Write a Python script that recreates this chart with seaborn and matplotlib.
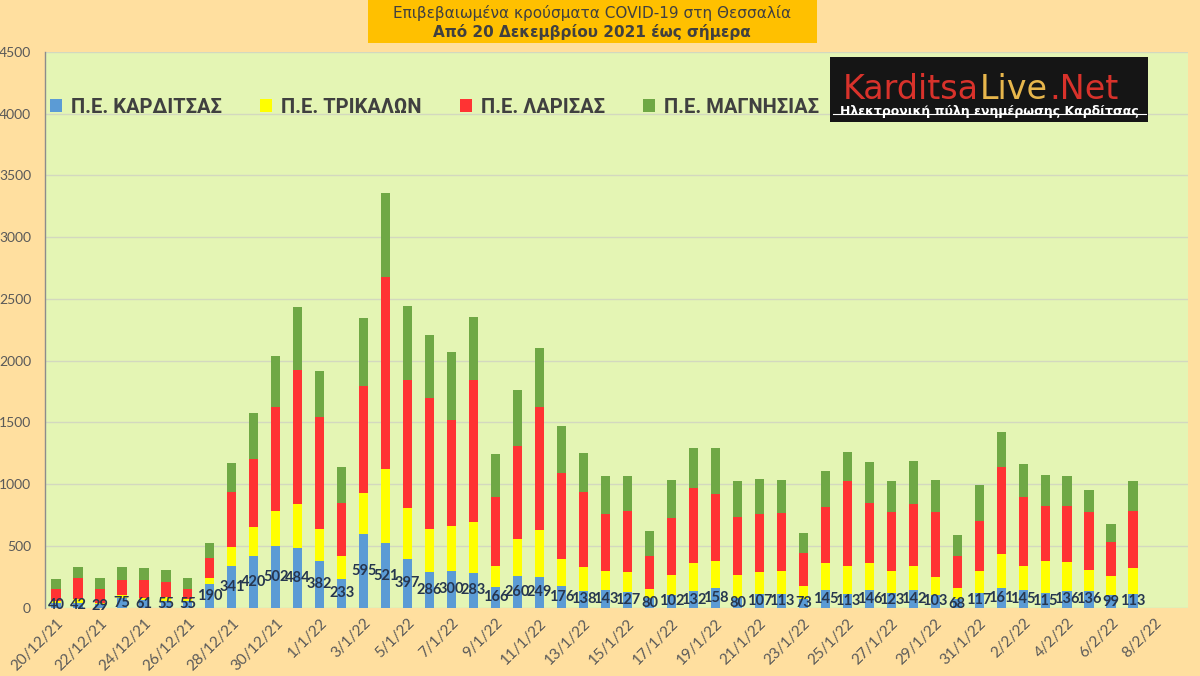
import matplotlib
matplotlib.use("Agg")
import matplotlib.pyplot as plt
from matplotlib.patches import Patch, Rectangle
from matplotlib.lines import Line2D
import seaborn as sns
import pandas as pd
import numpy as np

# ---------------- data ----------------
dates = ["20/12/21", "21/12/21", "22/12/21", "23/12/21", "24/12/21", "25/12/21", "26/12/21",
         "27/12/21", "28/12/21", "29/12/21", "30/12/21", "31/12/21",
         "1/1/22", "2/1/22", "3/1/22", "4/1/22", "5/1/22", "6/1/22", "7/1/22", "8/1/22",
         "9/1/22", "10/1/22", "11/1/22", "12/1/22", "13/1/22", "14/1/22", "15/1/22",
         "16/1/22", "17/1/22", "18/1/22", "19/1/22", "20/1/22", "21/1/22", "22/1/22",
         "23/1/22", "24/1/22", "25/1/22", "26/1/22", "27/1/22", "28/1/22", "29/1/22",
         "30/1/22", "31/1/22", "1/2/22", "2/2/22", "3/2/22", "4/2/22", "5/2/22",
         "6/2/22", "7/2/22", "8/2/22", "9/2/22"]

karditsa = [40, 42, 29, 75, 61, 55, 55, 190, 341, 420, 502, 484, 382, 233, 595, 521, 397,
            286, 300, 283, 166, 260, 249, 176, 138, 143, 127, 80, 102, 132, 158, 80, 107,
            113, 73, 145, 113, 146, 123, 142, 103, 68, 117, 161, 145, 115, 136, 136, 99, 113]
trikala = [15, 25, 12, 28, 15, 34, 13, 48, 154, 231, 282, 354, 259, 189, 337, 601, 411,
           355, 362, 412, 172, 297, 381, 216, 192, 154, 160, 71, 163, 228, 223, 185, 180,
           184, 103, 215, 225, 214, 174, 196, 143, 94, 180, 271, 193, 266, 234, 172, 158, 206]
larisa = [95, 171, 110, 121, 148, 116, 83, 167, 440, 552, 843, 1089, 902, 429, 865, 1554,
          1038, 1059, 854, 1151, 562, 754, 997, 697, 605, 460, 500, 271, 459, 613, 541, 468,
          470, 468, 267, 459, 689, 489, 479, 500, 530, 260, 406, 706, 562, 446, 457, 468,
          278, 468]
magnisia = [85, 89, 92, 103, 95, 100, 92, 122, 233, 370, 414, 511, 373, 287, 546, 684, 600,
            508, 557, 508, 343, 449, 476, 379, 316, 311, 281, 197, 311, 322, 373, 291, 286,
            270, 165, 289, 235, 332, 248, 351, 259, 165, 292, 283, 260, 249, 241, 175, 146, 237]

series_names = ["Π.Ε. ΚΑΡΔΙΤΣΑΣ", "Π.Ε. ΤΡΙΚΑΛΩΝ", "Π.Ε. ΛΑΡΙΣΑΣ", "Π.Ε. ΜΑΓΝΗΣΙΑΣ"]
colors = ["#5B9BD5", "#FFFF00", "#FF3333", "#6FA845"]

n = len(karditsa)
df = pd.DataFrame({
    "date": dates[:n],
    "K": karditsa, "T": trikala, "L": larisa, "M": magnisia,
})
df["c1"] = df["K"]
df["c2"] = df["c1"] + df["T"]
df["c3"] = df["c2"] + df["L"]
df["c4"] = df["c3"] + df["M"]

# ---------------- figure ----------------
W, H = 1200, 676
fig = plt.figure(figsize=(12, 6.76), dpi=100)
fig.patch.set_facecolor("#FFDF9F")
ax = fig.add_axes([45 / W, 1 - 607.7 / H, 1143 / W, 555.7 / H])
ax.set_facecolor("#E4F5B4")

bw = 0.42
for col, c in zip(["c4", "c3", "c2", "c1"], colors[::-1]):
    sns.barplot(data=df, x="date", y=col, order=dates, color=c, saturation=1,
                width=bw, errorbar=None, ax=ax, linewidth=0, zorder=2)

ax.bar_label(ax.containers[-1], labels=[str(v) for v in karditsa], label_type="center",
             fontsize=10.5, color="#26364F", fontweight="bold", family=["Lato", "DejaVu Sans"],
             padding=0)

ax.set_ylim(0, 4500)
ax.set_xlim(-0.5, len(dates) - 0.5)
ax.set_yticks(np.arange(0, 4501, 500))
ax.yaxis.grid(True, color="#D3D8BF", lw=1)
ax.set_axisbelow(True)
for s in ["top", "right", "bottom"]:
    ax.spines[s].set_visible(False)
ax.spines["left"].set_color("#8C8C8C")
ax.spines["left"].set_linewidth(1)

ax.set_xticks(range(0, len(dates), 2))
ax.set_xticklabels(dates[::2], rotation=45, ha="right", rotation_mode="anchor",
                   fontsize=11, color="#595959", family=["Lato", "DejaVu Sans"])
ax.tick_params(axis="x", length=0, pad=6)
ax.tick_params(axis="y", length=0, pad=10, labelsize=10, labelcolor="#595959")
for t in ax.get_yticklabels():
    t.set_family(["Lato", "DejaVu Sans"])
ax.set_xlabel("")
ax.set_ylabel("")

# legend
handles = [Patch(facecolor=c, edgecolor="none", label=l) for c, l in zip(colors, series_names)]
leg = ax.legend(handles=handles, ncol=4, loc="center left", bbox_to_anchor=(0.004, 0.901),
                frameon=False, borderpad=0, borderaxespad=0, handlelength=0.6,
                handleheight=0.6, handletextpad=0.45, columnspacing=1.9,
                prop={"family": ["Roboto", "DejaVu Sans"], "weight": "bold", "size": 14.5})
for t in leg.get_texts():
    t.set_color("#404040")

# title box
fig.patches.append(Rectangle((368 / W, 1 - 43 / H), (817 - 368) / W, 43 / H,
                             transform=fig.transFigure, facecolor="#FFC000",
                             edgecolor="none", zorder=0))
fig.text(592 / W, 1 - 13 / H, "Επιβεβαιωμένα κρούσματα COVID-19 στη Θεσσαλία",
         ha="center", va="center", fontsize=11, color="#404040", family="DejaVu Sans")
fig.text(592 / W, 1 - 32 / H, "Από 20 Δεκεμβρίου 2021 έως σήμερα",
         ha="center", va="center", fontsize=11, color="#404040", family="DejaVu Sans",
         fontweight="bold")

# logo
fig.patches.append(Rectangle((830 / W, 1 - 122 / H), (1148 - 830) / W, (122 - 57) / H,
                             transform=fig.transFigure, facecolor="#151515",
                             edgecolor="none", zorder=3))
logo_font = dict(fontsize=24, family="DejaVu Sans", va="baseline", zorder=4)
renderer = fig.canvas.get_renderer()
x0 = 843
pieces = [("Karditsa", "#D8322B"), ("Live", "#E7B64C"), (".Net", "#D8322B")]
for txt, c in pieces:
    t = fig.text(x0 / W, 1 - 99 / H, txt, color=c, **logo_font)
    bb = t.get_window_extent(renderer=renderer)
    x0 += bb.width + 1
fig.text(989 / W, 1 - 112 / H, "Ηλεκτρονική πύλη ενημέρωσης Καρδίτσας", color="white",
         ha="center", va="center", fontsize=9, fontweight="bold", family="DejaVu Sans",
         zorder=4)
fig.add_artist(Line2D([833 / W, 1146 / W], [1 - 113.5 / H, 1 - 113.5 / H], color="white",
                      lw=0.8, transform=fig.transFigure, zorder=5))

fig.savefig("out.png", dpi=100, facecolor=fig.get_facecolor())
